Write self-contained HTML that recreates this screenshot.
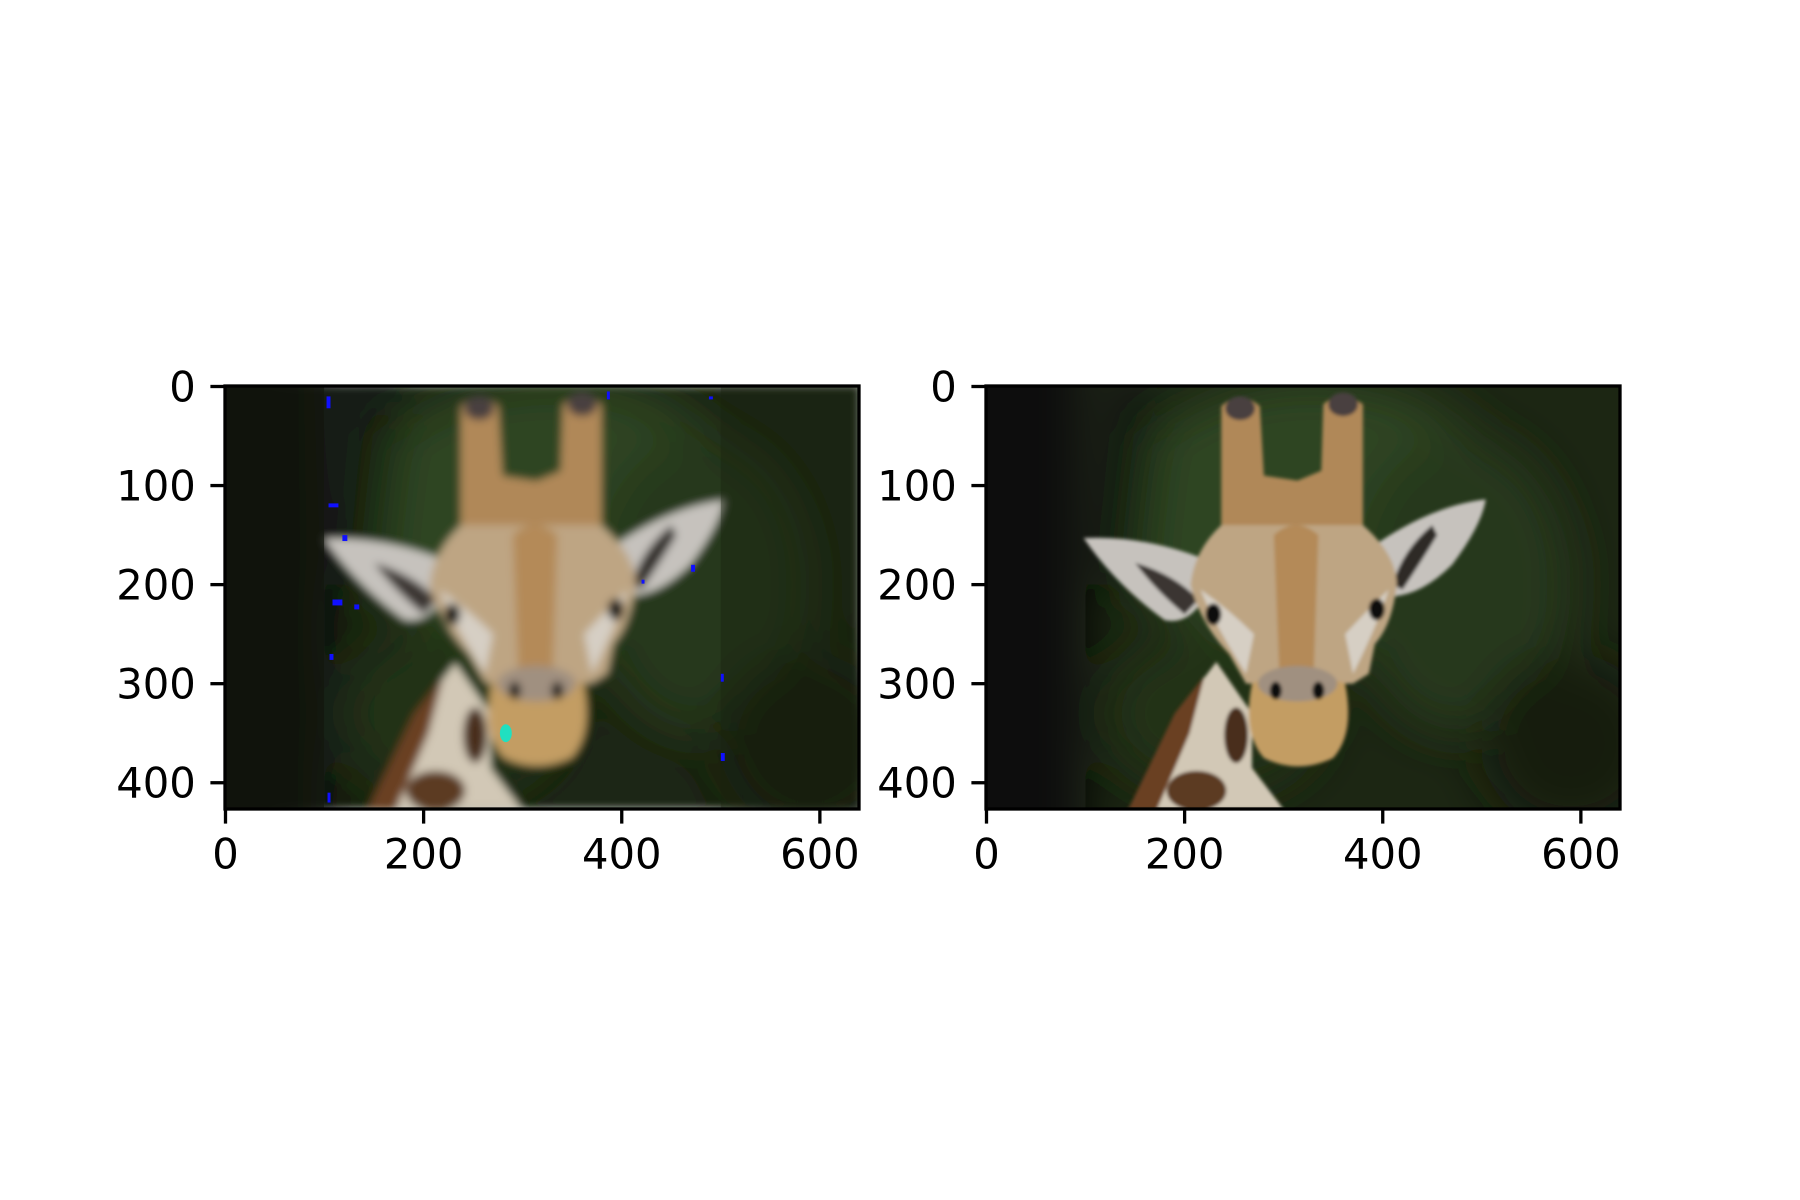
<!DOCTYPE html>
<html><head><meta charset="utf-8">
<style>
html,body{margin:0;padding:0;background:#fff;}
svg{display:block;}
text{font-family:"DejaVu Sans","Liberation Sans",sans-serif;font-size:41.7px;fill:#000;}
</style></head>
<body>
<svg id="fig" width="1800" height="1200" viewBox="0 0 1800 1200" xmlns="http://www.w3.org/2000/svg">
<defs>
  <filter id="blurR" filterUnits="userSpaceOnUse" x="-100" y="-100" width="840" height="627"><feGaussianBlur stdDeviation="2"/></filter>
  <filter id="blurL" filterUnits="userSpaceOnUse" x="-100" y="-100" width="840" height="627"><feGaussianBlur stdDeviation="4"/></filter>
  <filter id="blurBg" filterUnits="userSpaceOnUse" x="-200" y="-200" width="1040" height="827"><feGaussianBlur stdDeviation="25"/></filter>
  <clipPath id="imgclip"><rect x="-0.5" y="-0.5" width="640" height="427"/></clipPath>
  <g id="giraffe">
    <rect x="-0.5" y="-0.5" width="640" height="427" fill="#1c2613"/>
    <g filter="url(#blurBg)">
      <rect x="-60" y="-60" width="160" height="560" fill="#0d1009"/>
      <ellipse cx="330" cy="130" rx="200" ry="140" fill="#2d4520"/>
      <ellipse cx="480" cy="200" rx="110" ry="150" fill="#27391b"/>
      <ellipse cx="230" cy="330" rx="110" ry="80" fill="#223318"/>
      <ellipse cx="590" cy="360" rx="90" ry="90" fill="#141a0d"/>
      <path d="M130,-20 L175,-20 L150,200 L120,200 Z" fill="#111509"/>
    </g>
    <g filter="url(#blurR)">
      <path d="M143,427 L200,320 L232,278 L268,330 L268,385 L300,427 Z" fill="#d2c8b6"/>
      <path d="M143,427 L190,330 L220,292 L205,350 L172,427 Z" fill="#6a3f22"/>
      <ellipse cx="212" cy="408" rx="30" ry="20" fill="#5b3a22"/>
      <ellipse cx="252" cy="352" rx="12" ry="28" fill="#4a2f1c"/>
      <path d="M98,153 Q160,150 222,175 L214,222 Q200,240 180,236 Q130,200 98,153 Z" fill="#c6c2bd"/>
      <path d="M150,178 Q190,190 214,215 L200,230 Q170,205 150,178 Z" fill="#3a3530"/>
      <path d="M504,114 Q450,120 392,160 L410,212 Q440,210 470,180 Q500,140 504,114 Z" fill="#c6c2bd"/>
      <path d="M450,140 Q420,165 410,200 L420,205 Q440,175 455,150 Z" fill="#2e2a26"/>
      <path d="M237,20 Q256,2 276,20 L280,90 L314,95 L338,85 L340,18 Q358,2 380,18 L380,150 L237,150 Z" fill="#b08858"/>
      <ellipse cx="256" cy="22" rx="15" ry="12" fill="#4a4040"/>
      <ellipse cx="360" cy="18" rx="15" ry="12" fill="#4a4040"/>
      <path d="M237,140 L380,140 Q414,170 414,200 Q410,240 392,260 L386,290 L370,300 L262,300 L245,270 Q216,240 206,200 Q210,165 237,140 Z" fill="#bea583"/>
      <path d="M290,150 Q312,130 335,150 L330,300 L296,300 Z" fill="#b48a58"/>
      <path d="M216,205 Q230,240 262,290 L270,250 Q245,225 216,205 Z" fill="#d6cfc4"/>
      <path d="M406,205 Q395,240 370,290 L362,250 Q385,225 406,205 Z" fill="#d6cfc4"/>
      <ellipse cx="229" cy="230" rx="8" ry="11" fill="#101010"/>
      <ellipse cx="394" cy="225" rx="8" ry="11" fill="#101010"/>
      <path d="M268,300 Q312,280 362,300 Q372,350 350,375 Q314,392 280,375 Q258,350 268,300 Z" fill="#c39d64"/>
      <ellipse cx="314" cy="300" rx="40" ry="18" fill="#a09080"/>
      <ellipse cx="292" cy="307" rx="6" ry="9" fill="#111"/>
      <ellipse cx="335" cy="307" rx="6" ry="9" fill="#111"/>
    </g>
  </g>
</defs>
</svg>
<script>
const xTickValues = [0, 200, 400, 600];
const yTickValues = [0, 100, 200, 300, 400];
const xTickLabels = ['0', '200', '400', '600'];
const yTickLabels = ['0', '100', '200', '300', '400'];
const imgWidth = 640;
const imgHeight = 427;
const panelNames = ['reconstructed-image', 'original-image'];

const NS = 'http://www.w3.org/2000/svg';
const fig = document.getElementById('fig');
const axW = 634, axH = 423, axTop = 386;
const axLefts = [225, 986];
const k = axW / imgWidth;

function mk(tag, attrs, parent) {
  const el = document.createElementNS(NS, tag);
  for (const a in attrs) el.setAttribute(a, attrs[a]);
  parent.appendChild(el);
  return el;
}

panelNames.forEach((pname, i) => {
  const L = axLefts[i];
  const sx = v => L + (v + 0.5) * k;
  const sy = v => axTop + (v + 0.5) * k;
  const g = mk('g', {}, fig);
  
  

  const img = mk('g', {transform: `translate(${sx(0)},${sy(0)}) scale(${k})`, 'clip-path': 'url(#imgclip)'}, g);
  
  
  const u = mk('use', {href: '#giraffe'}, img);
  if (i === 0) {
    u.setAttribute('filter', 'url(#blurL)');
    const dark = mk('rect', {x: -0.5, y: -0.5, width: 100, height: 427, fill: '#13170d', opacity: 0.7}, img);
    
    
    const dark2 = mk('rect', {x: 500, y: -0.5, width: 140, height: 427, fill: '#1a2310', opacity: 0.4}, img);
    
    
    const specks = [[102,10,4,12],[104,118,10,4],[118,150,5,6],[108,215,10,6],[130,220,5,5],[105,270,4,6],[470,180,4,7],[500,290,3,8],[500,370,4,8],[103,410,3,10],[385,5,3,8],[420,195,3,4],[488,10,4,3]];
    specks.forEach(s => {
      const r = mk('rect', {x: s[0], y: s[1], width: s[2], height: s[3], fill: '#1010ff'}, img);
      
      
    });
    const cy = mk('ellipse', {cx: 283, cy: 350, rx: 6, ry: 9, fill: '#20e0c0'}, img);
    
    
  }

  const frame = mk('rect', {x: L, y: axTop, width: axW, height: axH, fill: 'none', stroke: '#000', 'stroke-width': 3.3}, g);
  
  

  xTickValues.forEach((v, j) => {
    const x = sx(v);
    const t = mk('line', {x1: x, x2: x, y1: axTop + axH, y2: axTop + axH + 14.6, stroke: '#000', 'stroke-width': 3.3}, g);
    
    
    const lb = mk('text', {x: x, y: axTop + axH + 14.6 + 14.6 + 30.5, 'text-anchor': 'middle'}, g);
    lb.textContent = xTickLabels[j];
    
    
  });
  yTickValues.forEach((v, j) => {
    const y = sy(v);
    const t = mk('line', {x1: L - 14.6, x2: L, y1: y, y2: y, stroke: '#000', 'stroke-width': 3.3}, g);
    
    
    const lb = mk('text', {x: L - 29.2, y: y + 15, 'text-anchor': 'end'}, g);
    lb.textContent = yTickLabels[j];
    
    
  });
});
</script>
</body></html>
